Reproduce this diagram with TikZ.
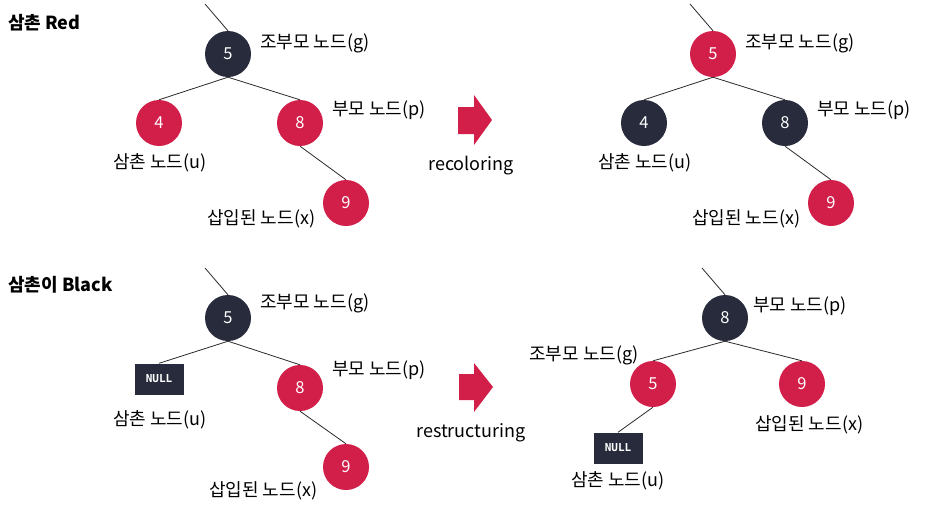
\documentclass[tikz,border=0pt]{standalone}
\usepackage{fontspec}
\setmainfont{Noto Sans CJK KR}
\newfontfamily\nullmono{DejaVu Sans Mono}
\definecolor{nodeblack}{HTML}{272B3B}
\definecolor{nodered}{HTML}{D21F4A}
\definecolor{edgecol}{HTML}{2A2A2A}
\begin{document}
\begin{tikzpicture}[x=1pt,y=-1pt,
  bnode/.style={circle,fill=nodeblack,minimum size=46pt,inner sep=0pt,text=white,font=\fontsize{16.5}{19}\selectfont},
  rnode/.style={circle,fill=nodered,minimum size=46pt,inner sep=0pt,text=white,font=\fontsize{16.5}{19}\selectfont},
  nullbox/.style={rectangle,fill=nodeblack,minimum width=49pt,minimum height=31pt,inner sep=0pt,text=white,font=\nullmono\bfseries\fontsize{11}{13}\selectfont},
  lbl/.style={inner sep=0pt,font=\fontsize{18}{21}\selectfont,text=black},
  ttl/.style={inner sep=0pt,anchor=west,font=\bfseries\fontsize{18}{21}\selectfont},
  edge/.style={draw=edgecol,line width=0.8pt},
  barrow/.style={fill=nodered}]
\useasboundingbox (0,0) rectangle (937,512);

% ---------- titles ----------
\node[ttl] (title1) at (8,23) {삼촌 Red};
\node[ttl] (title2) at (8,285) {삼촌이 Black};

% ---------- tree 1 (top left) ----------
\coordinate (t1top) at (205,4);
\node[bnode] (t1g) at (228,54) {5};
\node[rnode] (t1u) at (159,123) {4};
\node[rnode] (t1p) at (300,123) {8};
\node[rnode] (t1x) at (346,203) {9};
\draw[edge] (t1top) -- (t1g.north);
\draw[edge] (t1g.south) -- (t1u.north);
\draw[edge] (t1g.south) -- (t1p.north);
\draw[edge] (t1p.south) -- (t1x.north);
\node[lbl,anchor=west] (t1gl) at (260,43) {조부모 노드(g)};
\node[lbl,anchor=west] (t1pl) at (332,110) {부모 노드(p)};
\node[lbl,anchor=west] (t1ul) at (113,163) {삼촌 노드(u)};
\node[lbl,anchor=west] (t1xl) at (207,219) {삽입된 노드(x)};

% ---------- arrow 1 ----------
\fill[barrow] (458,107) -- (474,107) -- (474,95) -- (492,120) -- (474,145) -- (474,134) -- (458,134) -- cycle;
\node[lbl] (rec) at (471,166) {recoloring};

% ---------- tree 2 (top right) ----------
\coordinate (t2top) at (690,4);
\node[rnode] (t2g) at (713,54) {5};
\node[bnode] (t2u) at (644,123) {4};
\node[bnode] (t2p) at (785,123) {8};
\node[rnode] (t2x) at (831,203) {9};
\draw[edge] (t2top) -- (t2g.north);
\draw[edge] (t2g.south) -- (t2u.north);
\draw[edge] (t2g.south) -- (t2p.north);
\draw[edge] (t2p.south) -- (t2x.north);
\node[lbl,anchor=west] (t2gl) at (745,43) {조부모 노드(g)};
\node[lbl,anchor=west] (t2pl) at (817,110) {부모 노드(p)};
\node[lbl,anchor=west] (t2ul) at (598,163) {삼촌 노드(u)};
\node[lbl,anchor=west] (t2xl) at (692,219) {삽입된 노드(x)};

% ---------- tree 3 (bottom left) ----------
\coordinate (t3top) at (205,268);
\node[bnode] (t3g) at (228,318) {5};
\node[nullbox] (t3u) at (159,379) {NULL};
\node[rnode] (t3p) at (300,388) {8};
\node[rnode] (t3x) at (346,467) {9};
\draw[edge] (t3top) -- (t3g.north);
\draw[edge] (t3g.south) -- (t3u.north);
\draw[edge] (t3g.south) -- (t3p.north);
\draw[edge] (t3p.south) -- (t3x.north);
\node[lbl,anchor=west] (t3gl) at (260,303) {조부모 노드(g)};
\node[lbl,anchor=west] (t3pl) at (332,370) {부모 노드(p)};
\node[lbl,anchor=west] (t3ul) at (113,420) {삼촌 노드(u)};
\node[lbl,anchor=west] (t3xl) at (209,491) {삽입된 노드(x)};

% ---------- arrow 2 ----------
\fill[barrow] (459,374) -- (474,374) -- (474,363) -- (493,387) -- (474,412) -- (474,400) -- (459,400) -- cycle;
\node[lbl] (res) at (471,433) {restructuring};

% ---------- tree 4 (bottom right) ----------
\coordinate (t4top) at (702,268);
\node[bnode] (t4p) at (725,318) {8};
\node[rnode] (t4g) at (653,384) {5};
\node[rnode] (t4x) at (802,384) {9};
\node[nullbox] (t4u) at (618,448) {NULL};
\draw[edge] (t4top) -- (t4p.north);
\draw[edge] (t4p.south) -- (t4g.north);
\draw[edge] (t4p.south) -- (t4x.north);
\draw[edge] (t4g.south) -- (t4u.north);
\node[lbl,anchor=west] (t4pl) at (753,306) {부모 노드(p)};
\node[lbl,anchor=east] (t4gl) at (639,355) {조부모 노드(g)};
\node[lbl,anchor=west] (t4xl) at (755,425) {삽입된 노드(x)};
\node[lbl,anchor=west] (t4ul) at (571,481) {삼촌 노드(u)};
\end{tikzpicture}
\end{document}
